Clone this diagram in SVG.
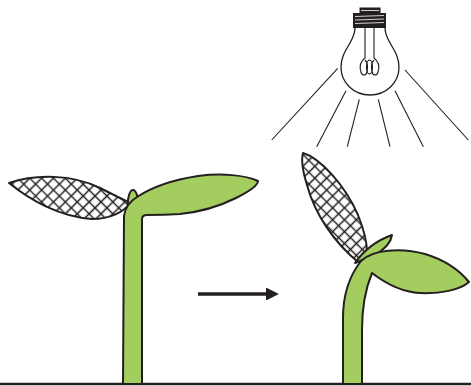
<svg xmlns="http://www.w3.org/2000/svg" width="471" height="386" viewBox="0 0 471 386">
  <style>
    .ink { stroke: #231f20; fill: none; }
    .leaf { fill: #a3cd5f; stroke: #231f20; stroke-width: 2; stroke-linejoin: round; }
    .net { fill: url(#hatch); stroke: #231f20; stroke-width: 2; stroke-linejoin: round; }
    .ray { stroke: #231f20; stroke-width: 1.1; fill: none; }
  </style>
  <defs>
    <pattern id="hatch" patternUnits="userSpaceOnUse" width="8.4" height="8.4" patternTransform="rotate(45)">
      <rect width="8.4" height="8.4" fill="#ffffff"/>
      <path d="M0,4.2 H8.4 M4.2,0 V8.4" stroke="#231f20" stroke-width="1.5"/>
    </pattern>
    <marker id="head" viewBox="0 0 10 10" refX="0" refY="5" markerWidth="6" markerHeight="3.8" markerUnits="strokeWidth" orient="auto">
      <path d="M0,0 L10,5 L0,10 Z" fill="#231f20"/>
    </marker>
  </defs>

  <rect width="471" height="386" fill="#ffffff"/>

  <!-- ground -->
  <line x1="0" y1="384" x2="471" y2="384" stroke="#231f20" stroke-width="2.6"/>

  <!-- seedling grown in the dark -->
  <g id="seedling-upright">
    <path class="net" d="M9,183 C35,174 72,174 100,188 C112,194 122,199 130,203 C124,212 110,219 92,219 C60,217 30,200 9,183 Z"/>
    <path class="leaf" d="M128,206 C127,198 130,190 133,190 C136,190 139,198 138,206 Z"/>
    <path class="leaf" d="M123,384 L124,216 C125,208 129,202 137,197 C152,187 172,180 198,176 C222,173 245,175 258,181 C258,186 248,192 236,198 C220,206 200,212 180,214 C165,215 152,215 147,215 C144,215 142,216 142,219 L142,384 Z"/>
  </g>

  <!-- seedling bending toward the lamp -->
  <g id="seedling-bent">
    <path class="net" d="M303,153 C320,158 345,185 358,215 C364,230 367,242 367,252 L358,262 C335,243 315,215 307,185 C303,172 301,160 303,153 Z"/>
    <path class="leaf" d="M355,263 C364,250 378,240 392,235 C391,242 387,248 375,255 Z"/>
    <path class="leaf" d="M343,384 L343,318 C343,295 350,275 361,261 C372,250 400,247 425,254 C445,260 460,271 469,282 C460,290 440,294 420,293 C400,292 385,283 372,273 C367,285 362,305 362,330 L362,384 Z"/>
  </g>

  <!-- lamp -->
  <g id="lamp">
    <path d="M355,28 C355,42 341,50 341,67 C341,83 354,95 370,95 C386,95 399,83 399,67 C399,50 385,42 385,28" fill="#ffffff" stroke="#231f20" stroke-width="1.3"/>
    <rect x="359.5" y="7.5" width="21" height="6" fill="#231f20"/>
    <line x1="361" y1="10.5" x2="379" y2="10.5" stroke="#ffffff" stroke-width="0.8"/>
    <rect x="353" y="13" width="33" height="15" fill="#231f20"/>
    <g stroke="#ffffff" stroke-width="0.8">
      <line x1="355" y1="16.5" x2="384" y2="15.5"/>
      <line x1="355" y1="20" x2="384" y2="19"/>
      <line x1="355" y1="23.5" x2="384" y2="22.5"/>
    </g>
    <g class="ink" stroke-width="1.1">
      <path d="M365,28 V58 C361,61 359,66 361,72 C362,76 366,76 367,72 C368,67 367,62 365,60"/>
      <path d="M374,28 V58 C378,61 380,66 378,72 C377,76 373,76 372,72 C371,67 372,62 374,60"/>
      <ellipse cx="369.5" cy="67" rx="3" ry="7"/>
    </g>
  </g>

  <!-- light rays -->
  <g id="rays">
    <line class="ray" x1="337.7" y1="68.3" x2="271.7" y2="140"/>
    <line class="ray" x1="346" y1="90.7" x2="316.7" y2="146.7"/>
    <line class="ray" x1="359.3" y1="99.3" x2="347.3" y2="146.7"/>
    <line class="ray" x1="378.3" y1="99.3" x2="390" y2="146.7"/>
    <line class="ray" x1="395" y1="90.7" x2="423.3" y2="146.7"/>
    <line class="ray" x1="405" y1="70" x2="468.3" y2="140"/>
  </g>

  <!-- connectors -->
  <g id="connectors">
    <line x1="198" y1="294" x2="266" y2="294" stroke="#231f20" stroke-width="3.4" marker-end="url(#head)"/>
  </g>
</svg>
